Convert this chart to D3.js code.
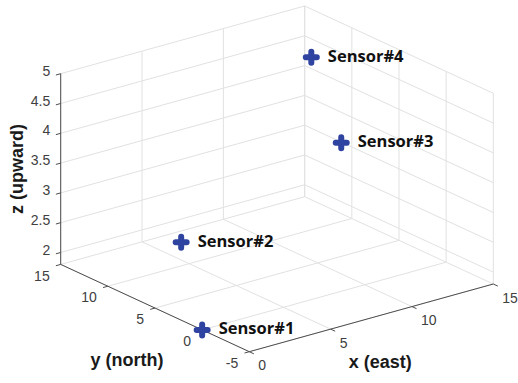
<!DOCTYPE html>
<html>
<head>
<meta charset="utf-8">
<script src="https://cdn.jsdelivr.net/npm/d3@7"></script>
<style>
  html, body { margin: 0; padding: 0; background: #fff; }
  svg { display: block; }
</style>
</head>
<body>
<svg id="chart" width="518" height="383"></svg>
<script>
// Sensor positions (metres): east, north, up
const sensorNames = ["Sensor#1", "Sensor#2", "Sensor#3", "Sensor#4"];
const sensorX = [0, 3, 10, 11];
const sensorY = [0, 7.4, 2.5, 7.4];
const sensorZ = [1.8, 2.5, 4, 5];

// Axis limits and tick values
const xDomain = [0, 15];
const yDomain = [-5, 15];
const zDomain = [1.8, 5];
const xTicks = [0, 5, 10, 15];
const yTicks = [-5, 0, 5, 10, 15];
const zTicks = [2, 2.5, 3, 3.5, 4, 4.5, 5];

const xTitle = "x (east)";
const yTitle = "y (north)";
const zTitle = "z (upward)";

// Normalised axis scales (0..1 along each box edge)
const sx = d3.scaleLinear().domain(xDomain).range([0, 1]);
const sy = d3.scaleLinear().domain(yDomain).range([0, 1]);
const sz = d3.scaleLinear().domain(zDomain).range([0, 1]);

// Oblique view: front-bottom corner and the screen vectors of each full box edge
const origin = [249.3, 351.7];
const edgeX = [244, -67.7];
const edgeY = [-188.6, -87.3];
const edgeZ = [0, -190.7];

function project(x, y, z) {
  const u = sx(x), v = sy(y), w = sz(z);
  return [
    origin[0] + u * edgeX[0] + v * edgeY[0] + w * edgeZ[0],
    origin[1] + u * edgeX[1] + v * edgeY[1] + w * edgeZ[1]
  ];
}

const svg = d3.select("#chart");
const [x0, x1] = xDomain, [y0, y1] = yDomain, [z0, z1] = zDomain;

const gridColor = "#e1e1e1";
const axisColor = "#4d4d4d";
const tickText = "#404040";
const line = d3.line();

const grid = svg.append("g")
  .attr("fill", "none")
  .attr("stroke", gridColor)
  .attr("stroke-width", 1);

function seg(g, a, b) {
  g.append("path").attr("d", line([a, b]));
}

// Floor (z = min)
xTicks.forEach(t => seg(grid, project(t, y0, z0), project(t, y1, z0)));
yTicks.forEach(t => seg(grid, project(x0, t, z0), project(x1, t, z0)));
// Back wall y = max
xTicks.forEach(t => seg(grid, project(t, y1, z0), project(t, y1, z1)));
zTicks.forEach(t => seg(grid, project(x0, y1, t), project(x1, y1, t)));
// Back wall x = max
yTicks.forEach(t => seg(grid, project(x1, t, z0), project(x1, t, z1)));
zTicks.forEach(t => seg(grid, project(x1, y0, t), project(x1, y1, t)));

// Axis lines
const axes = svg.append("g")
  .attr("fill", "none")
  .attr("stroke", axisColor)
  .attr("stroke-width", 1);
seg(axes, project(x0, y0, z0), project(x1, y0, z0));
seg(axes, project(x0, y0, z0), project(x0, y1, z0));
seg(axes, project(x0, y1, z0), project(x0, y1, z1));

// Tick directions (outward from the box)
function unit(v) { const l = Math.hypot(v[0], v[1]); return [v[0] / l, v[1] / l]; }
const outY = unit([-edgeY[0], -edgeY[1]]);
const outX = unit([-edgeX[0], -edgeX[1]]);
const tickLen = 5;

xTicks.forEach(t => {
  const p = project(t, y0, z0);
  seg(axes, p, [p[0] + outY[0] * tickLen, p[1] + outY[1] * tickLen]);
});
yTicks.forEach(t => {
  const p = project(x0, t, z0);
  seg(axes, p, [p[0] + outX[0] * tickLen, p[1] + outX[1] * tickLen]);
});
zTicks.forEach(t => {
  const p = project(x0, y1, t);
  seg(axes, p, [p[0] + outX[0] * tickLen, p[1] + outX[1] * tickLen]);
});

// Tick labels
const labels = svg.append("g")
  .attr("font-family", "'Liberation Sans', Arial, sans-serif")
  .attr("font-size", 14)
  .attr("fill", tickText);

xTicks.forEach(t => {
  const p = project(t, y0, z0);
  labels.append("text")
    .attr("x", p[0] + 9).attr("y", p[1] + 15)
    .attr("dominant-baseline", "middle")
    .attr("text-anchor", "start")
    .text(t);
});
yTicks.forEach(t => {
  const p = project(x0, t, z0);
  labels.append("text")
    .attr("x", p[0] - 11).attr("y", p[1] + 12.5)
    .attr("dominant-baseline", "middle")
    .attr("text-anchor", "end")
    .text(t);
});
zTicks.forEach(t => {
  const p = project(x0, y1, t);
  labels.append("text")
    .attr("x", p[0] - 10.5).attr("y", p[1] - 1.5)
    .attr("dominant-baseline", "middle")
    .attr("text-anchor", "end")
    .text(t);
});

// Axis titles
const titles = svg.append("g")
  .attr("font-family", "'Liberation Sans', Arial, sans-serif")
  .attr("font-size", 18)
  .attr("font-weight", "bold")
  .attr("fill", "#1a1a1a")
  .attr("text-anchor", "middle");

const xMid = project((x0 + x1) / 2, y0, z0);
titles.append("text").attr("x", xMid[0] + 9).attr("y", xMid[1] + 50).text(xTitle);
const yMid = project(x0, (y0 + y1) / 2, z0);
titles.append("text").attr("x", yMid[0] - 28).attr("y", yMid[1] + 58).text(yTitle);
const zMid = project(x0, y1, (z0 + z1) / 2);
titles.append("text")
  .attr("transform", `translate(${zMid[0] - 42},${zMid[1]}) rotate(-90)`)
  .attr("dominant-baseline", "middle")
  .text(zTitle);

// Sensors: plus markers with names
const sensors = sensorNames.map((name, i) => ({
  name, p: project(sensorX[i], sensorY[i], sensorZ[i])
}));

const markerColor = "#2f43a0";
const arm = 5.5;
const marks = svg.append("g");
marks.selectAll("path.marker")
  .data(sensors)
  .join("path")
  .attr("class", "marker")
  .attr("d", d => `M${d.p[0] - arm},${d.p[1]}H${d.p[0] + arm}M${d.p[0]},${d.p[1] - arm}V${d.p[1] + arm}`)
  .attr("stroke", markerColor)
  .attr("stroke-width", 6)
  .attr("stroke-linecap", "round")
  .attr("fill", "none");

marks.selectAll("text.name")
  .data(sensors)
  .join("text")
  .attr("class", "name")
  .attr("x", d => d.p[0] + 16.5)
  .attr("y", d => d.p[1])
  .attr("dominant-baseline", "middle")
  .attr("font-family", "'Open Sans', 'Noto Sans', sans-serif")
  .attr("font-weight", "bold")
  .attr("font-size", 16.5)
  .attr("fill", "#111")
  .text(d => d.name);
</script>
</body>
</html>
